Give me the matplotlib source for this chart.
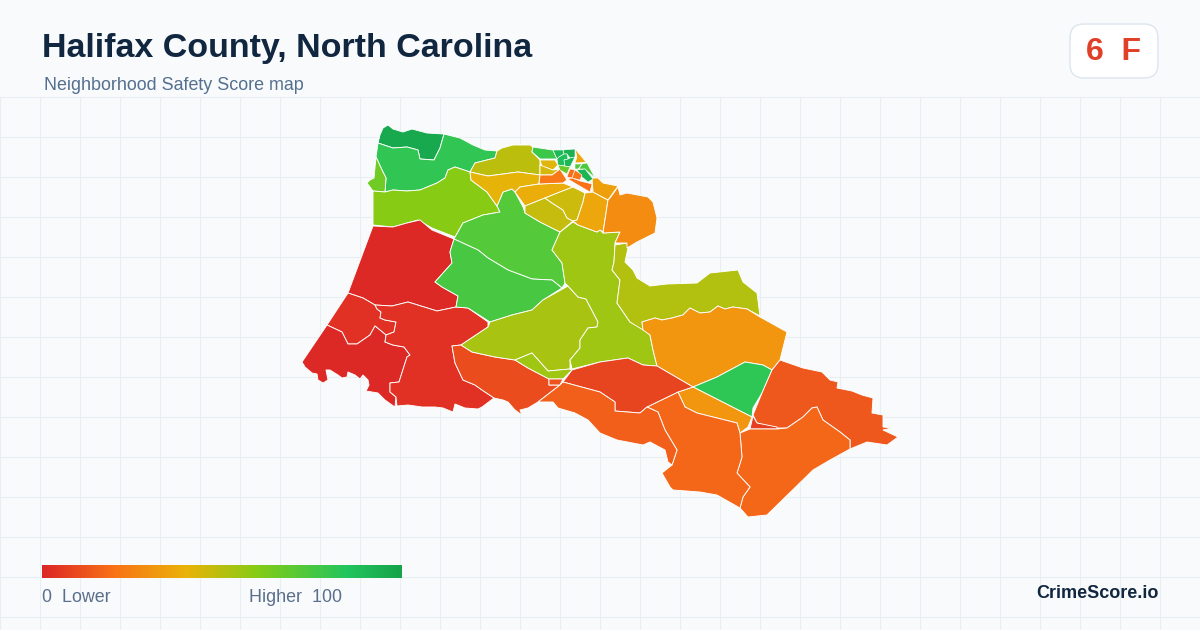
import matplotlib
matplotlib.use('Agg')
import numpy as np
import matplotlib.pyplot as plt
from matplotlib.colors import LinearSegmentedColormap, Normalize
from matplotlib.patches import FancyBboxPatch, Polygon

plt.rcParams['font.family'] = ['Liberation Sans', 'DejaVu Sans']

title = 'Halifax County, North Carolina'
subtitle = 'Neighborhood Safety Score map'
score_text = '6  F'
low_label = '0  Lower'
high_label = 'Higher  100'
brand = 'CrimeScore.io'

# colour scale of the score
stop_pos = [0, 0.2, 0.4, 0.6, 0.85, 1]
stop_col = ['#dc2626', '#f97316', '#eab308', '#84cc16', '#22c55e', '#16a34a']

# tract outlines (x, y in image pixels)
nw_dark = [(388,125),(393,129),(403,132),(412,129),(427,133),(444,134),(440,148),(434,160),(420,159),(418,150),(407,147),(393,148),(378,143),(380,135),(383,128)]
nw_green = [(444,134),(460,138),(473,145),(485,150),(497,151),(495,158),(475,163),(470,172),(455,167),(448,170),(445,178),(437,183),(420,190),(407,191),(393,190),(385,192),(386,178),(382,170),(376,157),(378,143),(393,148),(407,147),(418,150),(420,159),(434,160),(440,148)]
nw_edge = [(376,157),(382,170),(386,178),(385,192),(373,191),(367,183),(370,180),(374,178)]
north_lime = [(373,191),(385,192),(393,190),(407,191),(420,190),(437,183),(445,178),(448,170),(455,167),(470,172),(471,180),(487,192),(497,206),(500,212),(483,215),(463,223),(455,237),(432,228),(418,220),(407,223),(393,227),(373,225)]
west_red = [(373,226),(393,227),(407,223),(420,220),(432,230),(454,239),(450,252),(452,263),(435,282),(442,287),(458,296),(456,307),(437,311),(408,302),(392,306),(375,305),(363,298),(348,293)]
sw_upper = [(348,293),(363,298),(375,305),(377,309),(381,312),(380,318),(385,320),(396,322),(394,332),(386,335),(375,326),(370,335),(357,344),(348,344),(342,332),(327,325)]
sw_lower = [(327,325),(302,362),(305,367),(312,373),(317,374),(318,380),(323,383),(328,380),(326,370),(330,370),(338,375),(342,378),(347,377),(348,372),(355,375),(360,379),(363,375),(368,380),(369,385),(366,391),(378,393),(385,400),(392,405),(395,407),(396,397),(390,392),(390,383),(399,382),(407,357),(410,355),(404,347),(393,345),(385,342),(386,335),(375,326),(370,335),(357,344),(348,344),(342,332)]
south_red = [(375,305),(392,306),(408,302),(437,311),(456,307),(468,308),(488,322),(488,327),(461,345),(452,346),(455,363),(463,380),(475,385),(482,390),(494,398),(482,407),(478,409),(465,408),(455,404),(453,412),(443,408),(435,407),(422,407),(408,405),(397,406),(396,397),(390,392),(390,383),(399,382),(407,357),(410,355),(404,347),(393,345),(385,342),(386,335),(394,332),(396,322),(385,320),(380,318),(381,312),(377,309)]
south_orange = [(452,346),(461,345),(472,352),(495,357),(515,360),(528,368),(549,379),(549,385),(560,385),(538,402),(528,408),(520,410),(522,415),(515,410),(508,402),(503,400),(494,398),(482,390),(475,385),(463,380),(455,363)]
mid_green = [(497,206),(503,192),(512,189),(515,192),(523,207),(525,213),(540,222),(560,232),(552,250),(562,263),(565,283),(562,288),(552,280),(532,279),(508,270),(488,258),(478,250),(454,239),(463,223),(483,215),(500,212)]
low_green = [(454,239),(478,250),(488,258),(508,270),(532,279),(552,280),(562,288),(543,300),(532,310),(512,315),(490,322),(468,308),(456,307),(458,296),(442,287),(435,282),(452,263),(450,252)]
center_olive = [(490,322),(512,315),(532,310),(543,300),(568,286),(578,297),(586,299),(598,322),(597,327),(588,328),(580,340),(580,348),(570,360),(570,369),(548,371),(540,362),(532,353),(515,360),(495,357),(472,352),(461,345),(488,327)]
center_bit = [(515,360),(532,353),(540,362),(548,371),(570,369),(572,370),(563,379),(549,379),(528,368)]
tiny_box = [(549,379),(563,379),(560,385),(549,385)]
center_lime = [(573,222),(578,225),(597,232),(600,230),(603,233),(620,232),(615,243),(614,262),(612,270),(620,280),(617,303),(630,322),(642,328),(650,335),(653,350),(657,366),(643,365),(628,358),(600,362),(572,369),(570,360),(580,348),(580,340),(588,328),(597,327),(598,322),(586,299),(578,297),(568,286),(565,283),(562,263),(552,250),(560,232)]
east_olive = [(615,245),(627,243),(628,248),(625,262),(633,270),(637,278),(650,286),(667,284),(697,283),(710,273),(738,270),(743,282),(757,293),(760,316),(747,309),(733,307),(725,309),(718,306),(710,312),(700,313),(690,308),(683,315),(672,318),(662,320),(655,318),(642,322),(643,330),(630,322),(617,303),(620,280),(612,270),(614,262)]
east_orange = [(642,322),(655,318),(662,320),(672,318),(683,315),(690,308),(700,313),(710,312),(718,306),(725,309),(733,307),(747,309),(760,317),(787,332),(780,360),(772,370),(763,365),(745,362),(717,377),(693,387),(657,366),(653,350),(650,335),(643,330)]
east_green = [(693,387),(717,377),(745,362),(763,365),(772,370),(762,393),(753,408),(752,417)]
wedge_orange = [(678,392),(693,387),(752,417),(748,427),(740,433),(737,423),(697,413),(685,407)]
se_upper = [(780,360),(803,368),(822,372),(830,380),(838,382),(837,388),(852,391),(862,395),(873,398),(872,413),(883,415),(883,427),(892,428),(883,430),(898,437),(887,445),(867,442),(850,449),(850,440),(840,432),(823,420),(817,407),(812,408),(803,417),(787,428),(777,428),(757,423),(753,415),(762,393),(772,370)]
red_sliver = [(753,416),(757,423),(777,427),(777,429),(750,429)]
se_lower = [(740,433),(750,429),(777,429),(787,428),(803,417),(812,408),(817,407),(823,420),(840,432),(850,440),(850,449),(830,460),(813,470),(767,515),(748,517),(740,508),(743,497),(750,487),(737,473),(742,457)]
south_mid = [(647,407),(678,392),(685,407),(697,413),(737,423),(740,433),(742,457),(737,473),(750,487),(743,497),(740,508),(717,495),(700,492),(673,490),(670,487),(662,473),(672,465),(677,450),(665,430),(658,412)]
mid_red = [(572,370),(600,362),(628,358),(643,365),(657,366),(693,387),(678,392),(647,407),(640,413),(615,411),(615,402),(600,392),(563,382)]
south_west = [(563,382),(600,392),(615,402),(615,411),(640,413),(647,407),(658,412),(665,430),(677,450),(672,465),(668,462),(665,450),(650,442),(643,445),(617,440),(600,433),(588,420),(575,413),(558,408),(553,402),(538,402),(560,385)]
north_olive = [(497,151),(502,148),(513,145),(530,145),(533,147),(532,152),(540,160),(540,175),(518,172),(488,176),(470,172),(475,163),(495,158)]
north_yellow = [(470,172),(488,176),(518,172),(540,175),(539,184),(520,187),(515,192),(512,189),(503,192),(497,206),(487,192),(471,180)]
town_yellow = [(515,192),(520,187),(539,184),(563,183),(573,187),(560,192),(545,198),(525,206)]
olive_a = [(525,206),(545,198),(552,203),(563,210),(567,218),(573,221),(560,232),(540,222),(525,213)]
olive_b = [(545,198),(560,192),(573,187),(585,193),(583,202),(577,220),(573,221),(567,218),(563,210),(552,203)]
amber_a = [(585,193),(593,192),(608,200),(603,232),(600,230),(597,232),(578,225),(573,221),(577,220),(583,202)]
amber_big = [(610,198),(618,187),(620,195),(627,193),(648,197),(653,202),(657,218),(655,233),(637,242),(627,248),(627,243),(615,243),(620,232),(603,233),(608,200)]
amber_b = [(593,192),(592,178),(598,178),(603,183),(618,186),(608,200)]
town_green = [(533,147),(553,150),(557,159),(540,159),(532,152)]
town_amber = [(540,160),(555,160),(558,165),(553,170),(542,167)]
town_gold = [(540,165),(553,170),(560,169),(552,175),(540,175)]
town_orange = [(540,175),(552,175),(560,169),(567,180),(563,183),(539,184)]
cell_a = [(553,150),(563,150),(564,154),(559,157),(557,159)]
cell_b = [(563,150),(575,149),(575,157),(570,158),(567,154),(564,154)]
cell_c = [(559,157),(564,154),(567,154),(568,159),(564,160),(565,166),(558,165),(557,159)]
cell_d = [(568,159),(570,158),(575,157),(570,167),(565,166),(564,160)]
cell_lime = [(558,165),(570,167),(567,174),(560,170)]
cell_amber = [(575,149),(586,162),(575,163),(577,157)]
cell_f = [(575,164),(582,164),(578,169),(575,169)]
cell_g = [(582,164),(587,163),(595,178),(585,169),(579,169)]
cell_dark = [(577,170),(585,169),(593,179),(588,182),(582,177)]
cell_or_a = [(570,169),(575,170),(572,178),(567,177)]
cell_or_b = [(575,170),(582,175),(580,180),(572,178)]
cell_or_c = [(568,179),(572,178),(580,181),(592,184),(590,192),(578,185)]

tracts = [nw_dark, nw_green, nw_edge, north_lime, west_red, sw_upper, sw_lower, south_red,
          south_orange, mid_green, low_green, center_olive, center_bit, tiny_box, center_lime,
          east_olive, east_orange, east_green, wedge_orange, se_upper, red_sliver, se_lower,
          south_mid, mid_red, south_west, north_olive, north_yellow, town_yellow, olive_a,
          olive_b, amber_a, amber_big, amber_b, town_green, town_amber, town_gold, town_orange]
scores = [97, 81, 65, 59, 1, 3, 1, 3,
          10, 72, 75, 53, 55, 12, 55,
          51, 31, 82, 31, 13, 6, 17,
          17, 8, 15, 49, 41, 38, 47,
          46, 36, 28, 34, 78, 42, 44, 22]

# small tracts of the town, drawn with a thinner outline
town_cells = [cell_a, cell_b, cell_c, cell_d, cell_lime, cell_amber, cell_f, cell_g,
              cell_dark, cell_or_a, cell_or_b, cell_or_c]
town_scores = [90, 94, 88, 91, 66, 36, 72, 74, 92, 19, 21, 20]

cmap = LinearSegmentedColormap.from_list('score', list(zip(stop_pos, stop_col)))
norm = Normalize(0, 100)

fig = plt.figure(figsize=(12, 6.3), dpi=100, facecolor='#f8fafc')
ax = fig.add_axes([0, 0, 1, 1])
ax.set_facecolor('#f8fafc')
ax.axis('off')

# background grid
for gx in range(0, 1201, 40):
    ax.plot([gx, gx], [97, 630], color='#e8eff4', lw=0.8, zorder=1)
for gy in range(97, 631, 40):
    ax.plot([0, 1200], [gy, gy], color='#e8eff4', lw=0.8, zorder=1)

# map
for pts, s in zip(tracts, scores):
    ax.add_patch(Polygon(pts, closed=True, facecolor=cmap(norm(s)), edgecolor='white',
                         lw=0.65, joinstyle='round', zorder=3))
for pts, s in zip(town_cells, town_scores):
    ax.add_patch(Polygon(pts, closed=True, facecolor=cmap(norm(s)), edgecolor='white',
                         lw=0.4, joinstyle='round', zorder=3))

# legend bar
grad = np.linspace(0, 1, 360).reshape(1, -1)
ax.imshow(grad, cmap=cmap, extent=(42, 402, 578, 565), aspect='auto', zorder=4)
ax.text(42, 597, low_label, fontsize=12.9, color='#5b6f8c', va='center', ha='left', zorder=5)
ax.text(249, 597, high_label, fontsize=12.9, color='#5b6f8c', va='center', ha='left', zorder=5)

# title block
ax.text(42, 49, title, fontsize=24.5, fontweight='bold', color='#11263f', va='center', ha='left', zorder=5)
ax.text(44, 85.5, subtitle, fontsize=12.9, color='#54708f', va='center', ha='left', zorder=5)

# score badge
ax.add_patch(FancyBboxPatch((1082, 36), 64, 30, boxstyle='round,pad=12,rounding_size=14',
                            facecolor='white', edgecolor='#dde5ee', lw=1, zorder=4))
ax.text(1113, 52.5, score_text, fontsize=23, fontweight='bold', color='#e04028', va='center', ha='center', zorder=5)

ax.text(1158.5, 593.5, brand, fontsize=13, fontweight='bold', color='#11263f', va='center', ha='right', zorder=5)

ax.set_xlim(0, 1200)
ax.set_ylim(630, 0)
fig.savefig('out.png', dpi=100, facecolor=fig.get_facecolor())
